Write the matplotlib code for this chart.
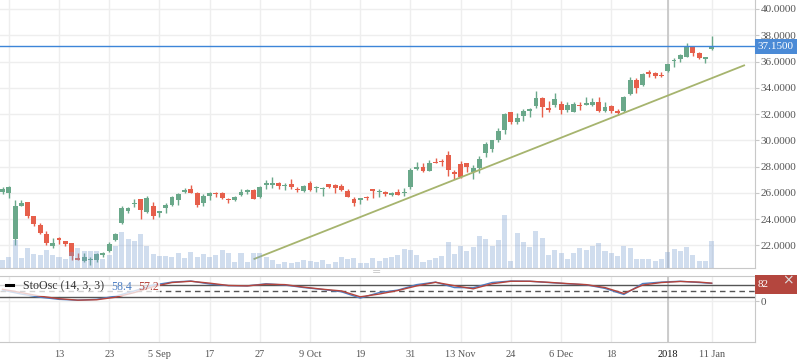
import numpy as np
import matplotlib.pyplot as plt
import matplotlib.transforms as mtransforms
from matplotlib.patches import Rectangle
from matplotlib.lines import Line2D

plt.rcParams['font.family'] = ['Liberation Serif', 'DejaVu Serif']

# daily candles (oldest first)
opens = [26.09, 26.01, 22.51, 25.02, 25.30, 24.23, 23.55, 22.86, 21.93, 22.56,
         22.33, 22.18, 21.04, 20.81, 20.88, 20.88, 21.27, 21.57, 22.41, 23.72,
         24.64, 25.12, 25.50, 24.56, 25.00, 24.49, 24.87, 25.09, 25.48, 26.06,
         26.29, 26.01, 25.25, 25.78, 26.01, 26.01, 25.55, 25.48, 25.86, 26.09,
         26.24, 25.68, 26.60, 26.60, 26.75, 26.54, 26.67, 26.29, 26.16, 26.75,
         26.34, 26.27, 26.67, 26.60, 26.54, 26.16, 25.55, 25.48, 25.66, 26.29,
         26.06, 26.06, 25.86, 26.09, 26.01, 26.47, 27.81, 27.94, 27.68, 28.37,
         28.40, 28.88, 27.56, 28.20, 28.25, 27.58, 27.91, 29.06, 29.36, 30.02,
         30.81, 32.16, 31.42, 31.87, 32.25, 32.61, 33.20, 32.46, 32.69, 32.74,
         32.33, 32.16, 32.69, 32.69, 32.69, 32.92, 32.25, 32.61, 32.23, 32.23,
         33.50, 34.59, 34.21, 35.22, 35.10, 35.00, 35.30, 36.06, 36.19, 36.37,
         37.13, 36.63, 36.22, 36.95]
highs = [26.42, 26.52, 25.45, 25.45, 25.32, 24.25, 23.70, 23.09, 22.54, 22.64,
         22.36, 22.20, 21.42, 21.42, 21.09, 21.42, 21.49, 22.25, 22.96, 25.00,
         24.94, 25.50, 25.52, 25.78, 25.28, 24.63, 25.20, 25.78, 26.01, 26.34,
         26.57, 26.03, 25.91, 26.03, 26.03, 26.06, 25.63, 25.78, 26.31, 26.31,
         26.31, 26.50, 26.98, 27.18, 26.85, 26.75, 27.05, 26.47, 26.60, 26.90,
         26.52, 26.42, 26.70, 26.67, 26.70, 26.29, 25.70, 25.62, 25.78, 26.31,
         26.31, 26.16, 26.09, 26.31, 26.39, 27.87, 28.35, 28.25, 28.48, 28.63,
         28.60, 29.21, 27.74, 28.42, 28.27, 28.12, 28.80, 29.85, 30.05, 30.90,
         32.10, 32.18, 32.10, 32.38, 32.48, 33.75, 33.32, 33.00, 33.58, 32.99,
         32.92, 32.92, 32.89, 33.30, 33.20, 33.28, 32.92, 32.69, 32.41, 33.40,
         34.82, 34.77, 35.15, 35.38, 35.20, 35.18, 35.83, 36.25, 36.60, 37.41,
         37.15, 36.70, 36.35, 37.94]
lows = [25.91, 25.63, 22.03, 25.00, 24.10, 23.50, 22.84, 22.03, 21.77, 22.12,
        21.95, 20.86, 20.88, 20.73, 20.50, 20.73, 21.11, 21.52, 22.33, 23.65,
        24.49, 24.90, 24.03, 24.49, 24.03, 24.16, 24.49, 25.02, 25.09, 26.01,
        25.96, 24.94, 25.02, 25.48, 25.70, 25.55, 25.25, 25.40, 25.78, 25.93,
        25.50, 25.60, 26.31, 26.39, 26.31, 26.24, 26.31, 26.06, 26.09, 26.16,
        26.09, 25.78, 26.34, 26.01, 26.16, 25.66, 25.02, 25.17, 25.48, 25.58,
        25.70, 25.78, 25.78, 25.80, 25.78, 26.29, 27.74, 27.56, 27.63, 28.27,
        28.02, 27.30, 27.05, 27.15, 27.61, 27.08, 27.49, 28.75, 29.09, 29.85,
        30.50, 31.26, 31.26, 31.49, 31.80, 32.48, 31.80, 32.18, 32.51, 32.00,
        32.18, 32.14, 32.33, 32.67, 32.61, 32.18, 32.18, 32.06, 31.92, 32.18,
        33.45, 33.63, 34.16, 34.84, 34.77, 34.79, 35.23, 35.61, 35.99, 36.35,
        36.44, 36.19, 35.91, 36.88]
closes = [26.29, 26.47, 25.00, 25.25, 24.26, 23.65, 22.94, 22.18, 22.16, 22.43,
          22.12, 21.19, 20.88, 21.11, 20.96, 21.34, 21.42, 22.10, 22.84, 24.84,
          24.84, 25.18, 24.71, 25.63, 24.23, 24.61, 25.09, 25.70, 25.91, 26.19,
          26.01, 25.09, 25.78, 26.01, 25.93, 25.63, 25.48, 25.70, 26.09, 26.24,
          25.55, 26.47, 26.72, 26.75, 26.54, 26.62, 26.47, 26.21, 26.52, 26.24,
          26.42, 26.39, 26.42, 26.34, 26.24, 25.70, 25.22, 25.60, 25.58, 26.16,
          26.11, 25.91, 26.01, 25.86, 26.09, 27.74, 27.94, 27.66, 28.25, 28.29,
          28.35, 27.76, 27.43, 27.20, 27.99, 27.91, 28.58, 29.72, 30.02, 30.73,
          32.03, 31.42, 31.72, 32.25, 32.41, 33.20, 32.56, 32.31, 33.15, 32.31,
          32.69, 32.79, 32.61, 32.84, 32.94, 32.25, 32.54, 32.23, 32.08, 33.32,
          34.59, 34.01, 35.05, 35.03, 34.92, 34.92, 35.81, 36.14, 36.47, 37.13,
          36.63, 36.29, 36.34, 37.15]
# volume, thousands
volume = [200, 275, 700, 250, 500, 350, 325, 450, 325, 275,
          225, 400, 500, 425, 425, 425, 225, 325, 550, 900,
          725, 675, 850, 550, 350, 300, 300, 275, 375, 250,
          400, 275, 350, 275, 325, 450, 375, 150, 375, 150,
          375, 375, 275, 200, 100, 150, 125, 150, 200, 175,
          150, 200, 100, 150, 275, 225, 250, 125, 125, 250,
          175, 250, 275, 325, 475, 450, 325, 150, 200, 250,
          300, 650, 350, 550, 425, 525, 800, 725, 550, 700,
          1325, 175, 875, 650, 525, 925, 750, 325, 450, 375,
          225, 375, 500, 450, 550, 625, 425, 375, 300, 550,
          500, 225, 225, 225, 175, 225, 400, 475, 425, 525,
          325, 175, 175, 675]

# StoOsc (14, 3, 3)
osc_idx = [0, 3, 6, 9, 12, 15, 18, 21, 24, 27, 30, 33, 36, 39, 42, 45, 48, 51, 54, 57,
           60, 63, 66, 69, 72, 75, 78, 81, 84, 87, 90, 93, 96, 99, 102, 105, 108, 111, 113]
osc_k = [54, 35, 20, 10, 6, 10, 25, 50, 78, 92, 97, 83, 75, 74, 84, 78, 66, 57, 46, 16,
         42, 54, 80, 92, 66, 65, 90, 97, 96, 90, 84, 79, 62, 33, 85, 92, 96, 90, 86]
osc_d = [58, 42, 25, 13, 6, 8, 20, 42, 70, 90, 96, 87, 76, 74, 82, 80, 68, 58, 50, 22,
         35, 52, 74, 91, 75, 60, 84, 96, 96, 91, 85, 80, 66, 38, 78, 90, 95, 92, 87]

tick_pos = [1, 9, 17, 25, 33, 41, 49, 57, 65, 73, 81, 89, 97, 106, 113]
tick_labels = ['', '13', '23', '5 Sep', '17', '27', '9 Oct', '19', '31', '13 Nov',
               '24', '6 Dec', '18', '2018', '11 Jan']
year_idx = 106

trend_x = [40, 118.3]
trend_y = [20.94, 35.73]
last_price = 37.15
last_osc = 82

UP = '#6aa88a'
DOWN = '#e65f4b'
GRID = '#eeeeee'
EDGE = '#c8c8c8'
W, H = 798, 363

fig = plt.figure(figsize=(W / 100, H / 100), dpi=100)
ax = fig.add_axes([0, 95 / H, 755 / W, 268 / H])
ax_osc = fig.add_axes([0, 21 / H, 755 / W, 66 / H], sharex=ax)

# volume overlay (drawn over the candles, translucent)
axv = ax.twinx()

x = np.arange(len(closes))
o = np.array(opens)
c = np.array(closes)
cols = [UP if cc >= oo else DOWN for oo, cc in zip(o, c)]
ax.vlines(x, lows, highs, colors=cols, lw=1.0, zorder=2)
ax.bar(x, np.maximum(np.abs(c - o), 0.07), bottom=np.minimum(o, c), width=0.78,
       color=cols, zorder=3)

ax.plot(trend_x, trend_y, color='#a6b46e', lw=1.3, zorder=4, solid_capstyle='butt')
ax.axhline(last_price, color='#3d85d8', lw=1.0, zorder=5)
ax.axvline(year_idx, color='#c4c4c4', lw=1.2, zorder=1)

ax.set_xlim(-0.4, 119.9)
ax.set_ylim(20.27, 40.685)
ax.set_xticks(tick_pos)
ax.set_yticks(np.arange(22, 41, 2))
ax.set_yticklabels(['%.4f' % v for v in np.arange(22, 41, 2)])
ax.yaxis.tick_right()
ax.tick_params(axis='y', left=False, labelleft=False, right=True, labelright=True,
               length=3, pad=1, color=EDGE, labelsize=8, labelcolor='#555555')
ax.tick_params(axis='x', length=0, labelbottom=False)
ax.grid(True, color=GRID, lw=1)
ax.set_axisbelow(True)
for s in ['top', 'left']:
    ax.spines[s].set_visible(False)
for s in ['right', 'bottom']:
    ax.spines[s].set_color(EDGE)

axv.bar(x, volume, width=0.8, color='#7a9fd0', alpha=0.35, zorder=2)
axv.set_ylim(0, max(volume) * 268 / 53)
axv.set_yticks([])
axv.tick_params(axis='y', right=False, labelright=False, left=False, labelleft=False)
for s in axv.spines.values():
    s.set_visible(False)

# oscillator panel
ax_osc.plot(osc_idx, osc_k, color='#4d7fc4', lw=1.0, zorder=3)
ax_osc.plot(osc_idx, osc_d, color='#b5443c', lw=1.0, zorder=3)
ax_osc.axhline(80, color='#555555', lw=1.0, zorder=2)
ax_osc.axhline(20, color='#555555', lw=1.0, zorder=2)
ax_osc.axhline(50, color='#555555', lw=1.0, ls=(0, (4, 3)), zorder=2)
ax_osc.axvline(year_idx, color='#c4c4c4', lw=1.2, zorder=1)
ax_osc.set_ylim(-193, 121)
ax_osc.set_yticks([0])
ax_osc.yaxis.tick_right()
ax_osc.tick_params(axis='y', length=3, pad=1, color=EDGE, labelsize=8, labelcolor='#555555')
ax_osc.set_xticks(tick_pos)
ax_osc.set_xticklabels(tick_labels)
ax_osc.tick_params(axis='x', length=0, pad=6, labelsize=7.4, labelcolor='#555555')
for lab in ax_osc.get_xticklabels():
    if lab.get_text() == '2018':
        lab.set_color('#111111')
ax_osc.grid(True, color=GRID, lw=1)
ax_osc.set_axisbelow(True)
ax_osc.spines['left'].set_visible(False)
for s in ['right', 'bottom', 'top']:
    ax_osc.spines[s].set_color(EDGE)

# legend overlay of the oscillator
fig.add_artist(Rectangle((0, 1 - 296 / H), 160 / W, 16 / H, transform=fig.transFigure,
                         fc='white', ec='none', alpha=0.75, zorder=6))
fig.add_artist(Line2D([6 / W, 13 / W], [1 - 285 / H] * 2, color='black', lw=2.2, zorder=7))
fig.text(23 / W, 1 - 286.5 / H, 'StoOsc (14, 3, 3)', fontsize=8.6, color='#333333',
         va='center', zorder=7)
fig.text(111 / W, 1 - 286.5 / H, '%.1f' % 58.4, fontsize=8.6, color='#4d7fc4', va='center', zorder=7)
fig.text(138 / W, 1 - 286.5 / H, '%.1f' % 57.2, fontsize=8.6, color='#b5443c', va='center', zorder=7)

# last value markers on the right
tr = mtransforms.blended_transform_factory(ax.transAxes, ax.transData)
ax.text(1 + 21 / 755, last_price, '%.4f' % last_price, transform=tr, ha='center', va='center',
        fontsize=8, color='white', clip_on=False, zorder=10,
        bbox=dict(boxstyle='square,pad=0.25', fc='#4a8ad6', ec='none'))
tro = mtransforms.blended_transform_factory(ax_osc.transAxes, ax_osc.transData)
ax_osc.add_patch(Rectangle((1.0, last_osc - 45.5), 42 / 755, 91, transform=tro,
                           fc='#b4463e', ec='none', clip_on=False, zorder=10))
ax_osc.text(1 + 3 / 755, last_osc, str(last_osc), transform=tro, ha='left', va='center',
            fontsize=8, color='white', clip_on=False, zorder=11)
fig.text(788 / W, 1 - 280 / H, '\u00d7', family='DejaVu Sans', fontsize=10, color='#dddddd',
         ha='center', va='center', zorder=11)
fig.text(377 / W, 1 - 271 / H, '\u2261', family='DejaVu Sans', fontsize=8, color='#cccccc',
         ha='center', va='center')

fig.savefig('out.png', dpi=100)
